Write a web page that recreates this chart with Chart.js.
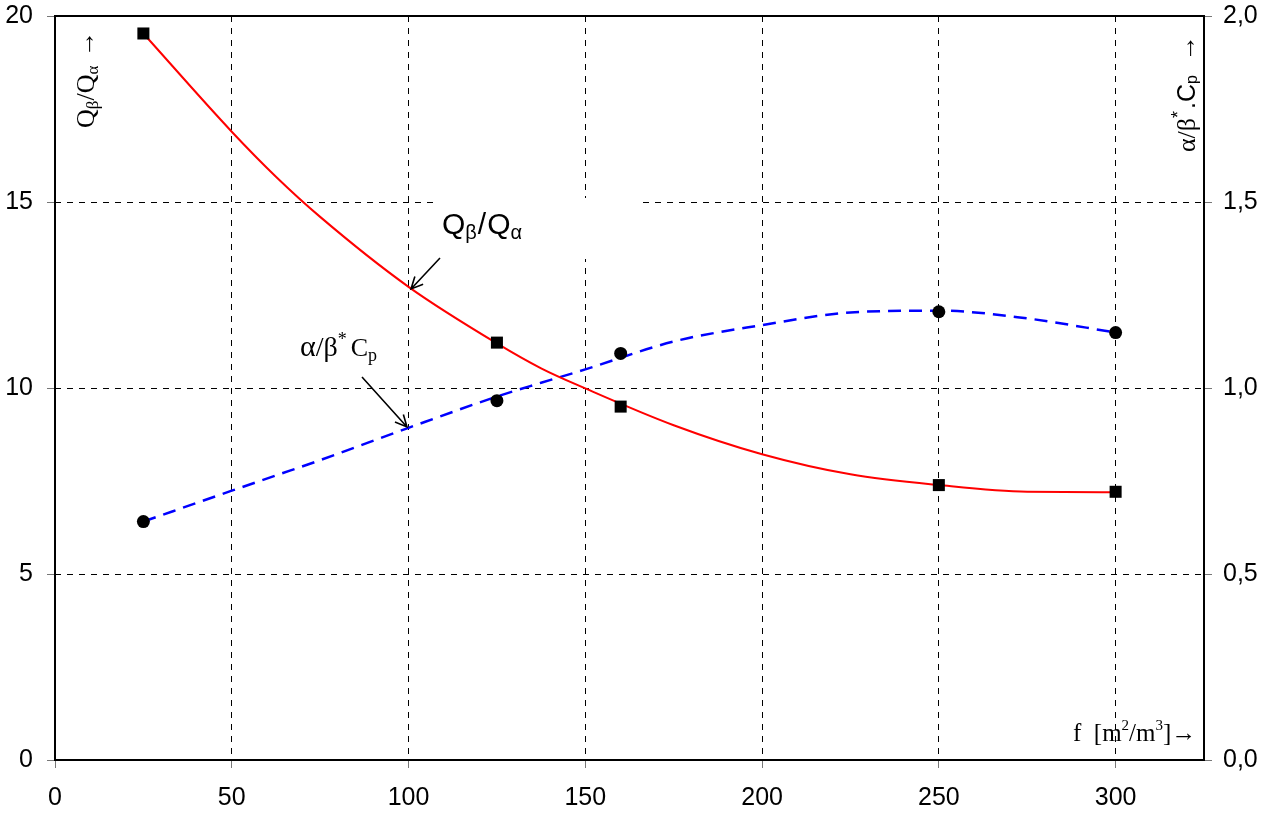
<!DOCTYPE html>
<html>
<head>
<meta charset="utf-8">
<script src="https://cdn.jsdelivr.net/npm/chart.js@4"></script>
<style>
  body { margin: 0; background: #fff; }
  #wrap { width: 1273px; height: 818px; position: relative; }
</style>
</head>
<body>
<div id="wrap"><canvas id="chart"></canvas></div>
<script>
// measured points
const fValues = [25, 125, 160, 250, 300];
const qRatio = [19.53, 11.22, 9.50, 7.39, 7.21];
const alphaBeta = [0.641, 0.966, 1.093, 1.205, 1.149];

// trend curves
const curveF = [25, 50, 62.5, 75, 100, 125, 137.5, 150, 175, 200, 225, 250, 275, 300];
const qCurve = [19.53, 16.89, 15.68, 14.6, 12.72, 11.2, 10.53, 9.99, 9.0, 8.22, 7.68, 7.39, 7.21, 7.2];
const abCurve = [0.641, 0.724, 0.765, 0.806, 0.893, 0.977, 1.014, 1.05, 1.125, 1.169, 1.203, 1.208, 1.187, 1.149];

// ticks
const xTicks = [0, 50, 100, 150, 200, 250, 300];
const yTicks = [0, 5, 10, 15, 20];
const y2Ticks = [0, 0.5, 1.0, 1.5, 2.0];

const SANS = '"Liberation Sans", Arial, sans-serif';
const SERIF = '"Liberation Serif", "Times New Roman", serif';

const toXY = (xs, ys) => xs.map((x, i) => ({ x: x, y: ys[i] }));

// draws text pieces along one baseline, returns end x
function rich(ctx, x, y, parts) {
  ctx.textBaseline = 'alphabetic';
  ctx.textAlign = 'left';
  parts.forEach(p => {
    ctx.font = p.font;
    ctx.fillText(p.t, x, y + (p.dy || 0));
    x += ctx.measureText(p.t).width + (p.gap || 0);
  });
  return x;
}

function arrow(ctx, x1, y1, x2, y2) {
  const a = Math.atan2(y2 - y1, x2 - x1);
  const h = 13, s = 0.45;
  ctx.save();
  ctx.strokeStyle = '#000';
  ctx.lineWidth = 1.6;
  ctx.beginPath();
  ctx.moveTo(x1, y1);
  ctx.lineTo(x2, y2);
  ctx.moveTo(x2 - h * Math.cos(a - s), y2 - h * Math.sin(a - s));
  ctx.lineTo(x2, y2);
  ctx.lineTo(x2 - h * Math.cos(a + s), y2 - h * Math.sin(a + s));
  ctx.stroke();
  ctx.restore();
}

const decor = {
  id: 'decor',
  afterDraw(chart) {
    const ctx = chart.ctx;
    const a = chart.chartArea;
    ctx.save();

    // white box behind the curve label
    ctx.fillStyle = '#fff';
    ctx.fillRect(434, 198, 206, 61);

    // frame
    ctx.strokeStyle = '#000';
    ctx.lineWidth = 2;
    ctx.strokeRect(a.left, a.top, a.right - a.left, a.bottom - a.top);

    ctx.fillStyle = '#000';
    // curve labels
    rich(ctx, 442, 234, [
      { t: 'Q', font: '30px ' + SANS },
      { t: 'β', font: '20px ' + SANS, dy: 5, gap: 1 },
      { t: '/', font: '30px ' + SANS, gap: 1 },
      { t: 'Q', font: '30px ' + SANS },
      { t: 'α', font: '20px ' + SANS, dy: 5 }
    ]);
    arrow(ctx, 440, 258, 411, 289);

    rich(ctx, 300, 356, [
      { t: 'α', font: '30px ' + SERIF },
      { t: '/', font: '28px ' + SERIF },
      { t: 'β', font: '28px ' + SERIF },
      { t: '*', font: '18px ' + SERIF, dy: -11, gap: 4 },
      { t: 'C', font: '26px ' + SERIF },
      { t: 'p', font: '18px ' + SERIF, dy: 5 }
    ]);
    arrow(ctx, 362, 377, 407, 427);

    // axis titles
    ctx.save();
    ctx.translate(94, 128);
    ctx.rotate(-Math.PI / 2);
    rich(ctx, 0, 0, [
      { t: 'Q', font: '26px ' + SERIF },
      { t: 'β', font: '17px ' + SERIF, dy: 4 },
      { t: '/', font: '26px ' + SERIF },
      { t: 'Q', font: '26px ' + SERIF },
      { t: 'α', font: '17px ' + SERIF, dy: 4, gap: 9 },
      { t: '→', font: '26px ' + SERIF }
    ]);
    ctx.restore();

    ctx.save();
    ctx.translate(1195, 152);
    ctx.rotate(-Math.PI / 2);
    rich(ctx, 0, 0, [
      { t: 'α/β', font: '26px ' + SERIF },
      { t: '*', font: '18px ' + SANS, dy: -11, gap: 2 },
      { t: '.C', font: '25px ' + SANS },
      { t: 'p', font: '16px ' + SANS, dy: 2, gap: 14 },
      { t: '→', font: '26px ' + SERIF }
    ]);
    ctx.restore();

    rich(ctx, 1073, 741, [
      { t: 'f  [m', font: '25px ' + SERIF },
      { t: '2', font: '15px ' + SERIF, dy: -11 },
      { t: '/m', font: '25px ' + SERIF },
      { t: '3', font: '15px ' + SERIF, dy: -11 },
      { t: ']→', font: '25px ' + SERIF }
    ]);

    ctx.restore();
  }
};

const tickFont = { family: SANS, size: 25 };

// fixed axis sizes so the plot box sits where the reference has it
function fitV(w) {
  return s => { s.width = w; s.paddingTop = 0; s.paddingBottom = 0; };
}

new Chart(document.getElementById('chart'), {
  type: 'scatter',
  data: {
    datasets: [
      {
        data: toXY(fValues, qRatio),
        yAxisID: 'y',
        pointStyle: 'rect',
        pointRadius: 8.5,
        backgroundColor: '#000',
        borderColor: '#000',
        borderWidth: 0,
        showLine: false
      },
      {
        data: toXY(fValues, alphaBeta),
        yAxisID: 'y2',
        pointStyle: 'circle',
        pointRadius: 6.5,
        backgroundColor: '#000',
        borderColor: '#000',
        borderWidth: 0,
        showLine: false
      },
      {
        data: toXY(curveF, qCurve),
        yAxisID: 'y',
        showLine: true,
        borderColor: '#ff0000',
        borderWidth: 2,
        pointRadius: 0,
        cubicInterpolationMode: 'monotone'
      },
      {
        data: toXY(curveF, abCurve),
        yAxisID: 'y2',
        showLine: true,
        borderColor: '#0000ff',
        borderWidth: 2.5,
        borderDash: [13, 8],
        pointRadius: 0,
        cubicInterpolationMode: 'monotone'
      }
    ]
  },
  options: {
    responsive: true,
    maintainAspectRatio: false,
    animation: false,
    layout: { padding: { top: 16, left: 0, right: 0, bottom: 0 } },
    plugins: { legend: { display: false }, tooltip: { enabled: false } },
    scales: {
      x: {
        type: 'linear',
        min: 0,
        max: 325,
        afterBuildTicks: s => { s.ticks = xTicks.map(v => ({ value: v })); },
        afterFit: s => { s.height = 58; s.paddingLeft = 0; s.paddingRight = 0; },
        ticks: { font: tickFont, color: '#000', padding: 15, maxRotation: 0 },
        grid: { color: '#000', lineWidth: 1, tickLength: 8, tickColor: '#777', tickBorderDash: [] },
        border: { display: false, dash: [6, 6] }
      },
      y: {
        position: 'left',
        min: 0,
        max: 20,
        afterBuildTicks: s => { s.ticks = yTicks.map(v => ({ value: v })); },
        afterFit: fitV(55),
        ticks: { font: tickFont, color: '#000', padding: 14 },
        grid: { color: '#000', lineWidth: 1, tickLength: 8, tickColor: '#777', tickBorderDash: [] },
        border: { display: false, dash: [6, 6] }
      },
      y2: {
        position: 'right',
        min: 0,
        max: 2,
        afterBuildTicks: s => { s.ticks = y2Ticks.map(v => ({ value: v })); },
        afterFit: fitV(69),
        ticks: {
          font: tickFont,
          color: '#000',
          padding: 11,
          callback: v => v.toFixed(1).replace('.', ',')
        },
        grid: { drawOnChartArea: false, tickLength: 8, tickColor: '#777' },
        border: { display: false }
      }
    }
  },
  plugins: [decor]
});
</script>
</body>
</html>
